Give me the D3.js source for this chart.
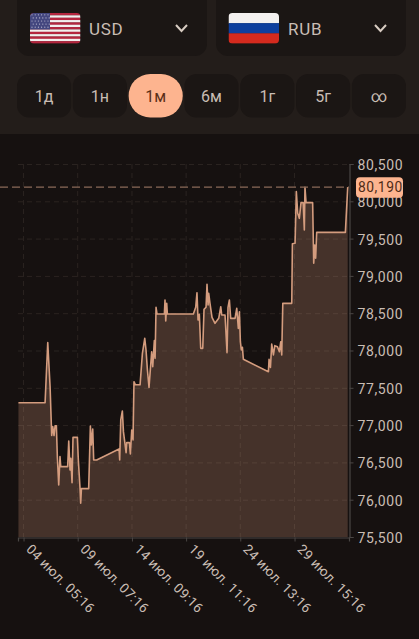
<!DOCTYPE html>
<html><head><meta charset="utf-8">
<script src="https://cdn.jsdelivr.net/npm/d3@7"></script>
<style>html,body{margin:0;padding:0;background:#161110;overflow:hidden}svg{display:block}text{font-family:Roboto,sans-serif}</style>
</head><body><svg id="c" width="419" height="639"></svg>
<script>
const days=[3.74,6.24,6.49,6.71,6.86,6.96,7.08,7.18,7.30,7.39,7.52,7.64,7.71,8.36,8.46,8.58,8.65,8.77,8.86,9.27,9.36,9.52,9.58,9.65,10.33,10.49,10.58,10.71,10.80,11.08,13.18,13.24,13.34,13.49,13.59,13.71,13.84,13.90,14.15,14.24,14.37,14.49,14.58,14.71,15.15,15.37,15.59,15.71,15.84,15.99,16.24,16.34,16.49,16.56,16.65,16.74,17.43,17.49,17.56,17.65,17.71,20.15,20.37,20.49,20.59,20.71,20.84,21.03,21.15,21.34,21.43,21.53,21.59,21.71,21.90,22.18,22.53,22.72,22.81,23.12,23.31,23.40,23.53,23.65,24.06,24.22,24.37,24.47,24.56,24.65,24.75,24.84,27.19,27.25,27.38,27.50,27.66,27.79,28.04,28.22,28.35,28.44,28.54,29.38,29.44,29.69,29.81,29.94,30.09,30.25,30.45,30.56,30.62,30.72,31.34,31.44,31.53,31.62,31.72,34.41,34.63];
const rates=[77300,77300,78105,77515,76860,76980,76860,76990,76990,76577,76197,76577,76443,76443,76787,76400,76555,76229,76836,76836,76532,76148,75952,76148,76148,76988,76733,76948,76532,76532,76680,76532,77069,77189,76912,76778,76631,76765,76765,76613,76935,76800,77582,77540,77540,77962,78163,78007,77738,77506,77984,77783,78132,77895,78579,78489,78489,78677,78395,78632,78489,78489,78579,78775,78409,78485,78029,78029,78552,78579,78887,78610,78766,78632,78445,78364,78431,78587,78476,78476,77971,78579,78677,78431,78431,78565,78297,78520,78118,78007,78043,77882,77716,77882,77774,78087,77940,78065,78051,77984,78118,77940,78632,78632,79430,79437,80130,79839,79772,79982,79982,79616,80188,79982,79982,79169,79415,79236,79584,79584,80190];
const yTicks=[75500,76000,76500,77000,77500,78000,78500,79000,79500,80000,80500];
const xTickDays=[4.22,9.30,14.39,19.47,24.55,29.64];
const xTickLabels=["04 июл. 05:16","09 июл. 07:16","14 июл. 09:16","19 июл. 11:16","24 июл. 13:16","29 июл. 15:16"];
const periods=["1д","1н","1м","6м","1г","5г","∞"];
const activePeriod="1м";
const currencies=["USD","RUB"];
const lastRate=80190;

const svg=d3.select("#c");
const x=d3.scaleLinear().domain([3.70,34.75]).range([18,349]);
const y=d3.scaleLinear().domain([75500,80500]).range([537,164]);
const fmt=d3.format(",.0f");

// header panel
svg.append("rect").attr("width",419).attr("height",134).attr("fill","#231d1a");
const selX=d3.scaleOrdinal().domain(currencies).range([17,216]);
const sel=svg.selectAll("g.sel").data(currencies).join("g").attr("class","sel").attr("transform",d=>`translate(${selX(d)},0)`);
sel.append("rect").attr("y",-12).attr("width",190).attr("height",68).attr("rx",12).attr("fill","#1b1614");
sel.append("text").attr("x",72).attr("y",35).attr("font-size",17).attr("letter-spacing",0.7).attr("fill","#c9bdb4").text(d=>d);
sel.append("path").attr("d","M159,25L164.5,31L170,25").attr("fill","none").attr("stroke","#d8ccc2").attr("stroke-width",2);

// flags
const defs=svg.append("defs");
defs.append("clipPath").attr("id","fl").append("rect").attr("width",50.5).attr("height",30.5).attr("rx",4);
const us=svg.append("g").attr("transform","translate(30,13)").attr("clip-path","url(#fl)");
d3.range(13).forEach(i=>us.append("rect").attr("y",i*30.5/13).attr("width",50.5).attr("height",30.5/13+.2).attr("fill",i%2?"#f2eeee":"#b5263f"));
us.append("rect").attr("width",20).attr("height",16.4).attr("fill","#44477f");
const stars=us.append("g");
d3.range(5).forEach(r=>d3.range(6).forEach(c=>stars.append("circle").attr("cx",2+c*3.2+(r%2)*1.2).attr("cy",1.8+r*3.1).attr("r",.6).attr("fill","#bcbcd2")));
const ru=svg.append("g").attr("transform","translate(228.5,13)").attr("clip-path","url(#fl)");
["#f4f1f0","#0e3f9e","#d42a1e"].forEach((c,i)=>ru.append("rect").attr("y",i*30.5/3).attr("width",50.5).attr("height",30.5/3+.2).attr("fill",c));

// period buttons
const pX=d3.scaleBand().domain(periods).range([17,406]).paddingInner(0.03);
const pg=svg.selectAll("g.p").data(periods).join("g").attr("class","p").attr("transform",d=>`translate(${pX(d)},74)`);
pg.append("rect").attr("width",pX.bandwidth()).attr("height",43.5).attr("rx",d=>d===activePeriod?21.7:12).attr("fill",d=>d===activePeriod?"#fdb48f":"#1b1614");
pg.append("text").attr("x",pX.bandwidth()/2).attr("y",27.5).attr("text-anchor","middle").attr("font-size",16).attr("fill",d=>d===activePeriod?"#5a2f17":"#c9bdb4").text(d=>d);

// area
svg.append("path").datum(rates).attr("fill","#45322a").attr("d",d3.area().x((d,i)=>x(days[i])).y0(537).y1(d=>y(d)));

// grid
const grid=svg.append("g").attr("stroke","#ddc6b4").attr("stroke-opacity",.1).attr("stroke-dasharray","5 4");
grid.selectAll("line.h").data(yTicks.slice(1)).join("line").attr("x1",18).attr("x2",349).attr("y1",d=>y(d)+.5).attr("y2",d=>y(d)+.5);
grid.selectAll("line.v").data(xTickDays).join("line").attr("x1",d=>x(d)).attr("x2",d=>x(d)).attr("y1",164).attr("y2",537);

const line=d3.line().x((d,i)=>x(days[i])).y(d=>y(d));
svg.append("path").datum(rates).attr("fill","none").attr("stroke","#d49c7e").attr("stroke-width",1.6).attr("stroke-linejoin","round").attr("d",line);

// axes
const axisY=d3.axisRight(y).tickValues(yTicks).tickFormat(fmt).tickSize(4).tickPadding(4);
const gy=svg.append("g").attr("transform","translate(349.5,0)").call(axisY);
gy.select(".domain").attr("stroke","#4a4644").attr("stroke-width",1.2);
gy.selectAll(".tick line").attr("stroke","#4a4644");
gy.selectAll(".tick text").attr("fill","#c9bdb4").attr("font-size",14).attr("font-family","Roboto,sans-serif").attr("letter-spacing",.6).attr("y",1).attr("dy",".32em").attr("x",8);
const axisX=d3.axisBottom(x).tickValues(xTickDays).tickFormat((d,i)=>xTickLabels[i]).tickSize(4);
const gx=svg.append("g").attr("transform","translate(0,537.5)").call(axisX);
gx.select(".domain").attr("stroke","#4a4644").attr("stroke-width",1.2);
gx.selectAll(".tick line").attr("stroke","#4a4644");
gx.selectAll(".tick text").attr("fill","#c9bdb4").attr("font-size",13.5).attr("font-family","Roboto,sans-serif").attr("letter-spacing",.35)
  .attr("text-anchor","start").attr("transform","translate(9,5) rotate(45)").attr("dy",".35em").attr("y",6).attr("x",0);

// last value
svg.append("line").attr("x1",0).attr("x2",349).attr("y1",y(lastRate)).attr("y2",y(lastRate)).attr("stroke","#8a6a58").attr("stroke-width",1.3).attr("stroke-dasharray","8 4");
svg.append("rect").attr("x",356).attr("y",y(lastRate)-10).attr("width",47).attr("height",20.5).attr("rx",4).attr("fill","#fdb48f");
svg.append("text").attr("x",358).attr("y",y(lastRate)+5.3).attr("font-size",13.8).attr("letter-spacing",.55).attr("fill","#4e2a16").text(fmt(lastRate));
</script></body></html>
